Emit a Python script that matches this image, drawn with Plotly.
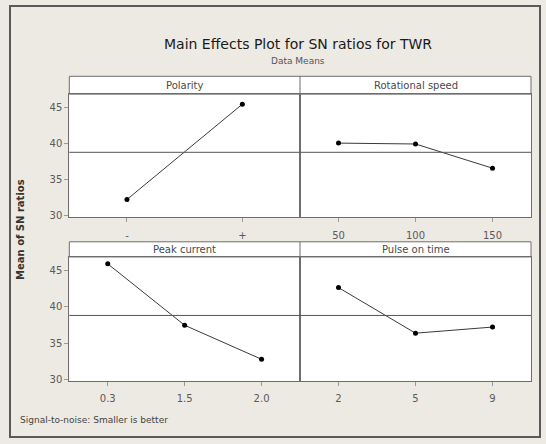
import plotly.graph_objects as go

# ---- data ----
polarity_levels = ["-", "+"]
polarity_sn = [32.27, 45.46]
speed_levels = ["50", "100", "150"]
speed_sn = [40.07, 39.95, 36.60]
current_levels = ["0.3", "1.5", "2.0"]
current_sn = [45.90, 37.45, 32.77]
pulse_levels = ["2", "5", "9"]
pulse_sn = [42.63, 36.36, 37.20]
grand_mean = 38.8
panel_titles = ["Polarity", "Rotational speed", "Peak current", "Pulse on time"]
y_ticks = [30, 35, 40, 45]

W, H = 546, 444

def px(x):
    return x / W

def py(y):
    return 1 - y / H

# panel geometry (pixels)
xl0, xm, xr1 = 69.3, 300.0, 531.0
top_y0, top_y1 = 95.0, 219.3
bot_y0, bot_y1 = 259.3, 384.3
top_hdr, bot_hdr = 77.0, 244.0

frame = "#6e6e6e"
tick_font = dict(family="DejaVu Sans", size=10, color="#5a5a5a")

fig = go.Figure()

panels = [
    (polarity_levels, polarity_sn, "x", "y", (xl0, xm), (top_y0, top_y1)),
    (speed_levels, speed_sn, "x2", "y2", (xm, xr1), (top_y0, top_y1)),
    (current_levels, current_sn, "x3", "y3", (xl0, xm), (bot_y0, bot_y1)),
    (pulse_levels, pulse_sn, "x4", "y4", (xm, xr1), (bot_y0, bot_y1)),
]

layout_axes = {}
for i, (lev, vals, xa, ya, (x0, x1), (y0, y1)) in enumerate(panels):
    fig.add_trace(go.Scatter(
        x=lev, y=vals, xaxis=xa, yaxis=ya, mode="lines+markers",
        line=dict(color="#3a3a3a", width=1),
        marker=dict(color="black", size=5, symbol="circle"),
        showlegend=False, hoverinfo="x+y",
    ))
    n = len(lev)
    xname = "xaxis" if i == 0 else f"xaxis{i+1}"
    yname = "yaxis" if i == 0 else f"yaxis{i+1}"
    left = (i % 2 == 0)
    top = i < 2
    layout_axes[xname] = dict(
        domain=[px(x0), px(x1)], anchor=ya, type="category",
        categoryorder="array", categoryarray=lev,
        range=[-0.5, n - 0.5], showgrid=False, zeroline=False,
        showline=True, mirror=True, linecolor=frame, linewidth=1,
        ticks="outside", ticklen=4, tickcolor="#9a9a9a",
        ticklabelstandoff=5 if top else 4,
        tickfont=tick_font, fixedrange=True,
    )
    layout_axes[yname] = dict(
        domain=[py(y1), py(y0)], anchor=xa, range=[29.8, 46.85],
        tickvals=y_ticks, showgrid=False, zeroline=False,
        showline=True, mirror=True, linecolor=frame, linewidth=1,
        ticks="outside" if left else "", ticklen=4, tickcolor="#9a9a9a",
        showticklabels=left, tickfont=tick_font, fixedrange=True,
    )

fig.update_layout(**layout_axes)

shapes = []
# outer frame
shapes.append(dict(type="rect", xref="paper", yref="paper",
                   x0=px(10), x1=px(540), y0=py(441), y1=py(6),
                   line=dict(color="#5a5a5a", width=2), layer="above"))

# grand-mean reference lines spanning full panel width
for (lev, vals, xa, ya, (x0, x1), (y0, y1)) in panels:
    shapes.append(dict(type="line", xref=f"{xa} domain", yref=ya,
                       x0=0, x1=1, y0=grand_mean, y1=grand_mean,
                       line=dict(color="#555555", width=1), layer="above"))

# header strips
for (hy0, hy1) in [(top_hdr, top_y0), (bot_hdr, bot_y0)]:
    shapes.append(dict(type="rect", xref="paper", yref="paper",
                       x0=px(xl0), x1=px(xr1), y0=py(hy1), y1=py(hy0),
                       fillcolor="white", line=dict(color=frame, width=1),
                       layer="below"))
    shapes.append(dict(type="line", xref="paper", yref="paper",
                       x0=px(xm), x1=px(xm), y0=py(hy1), y1=py(hy0),
                       line=dict(color=frame, width=1)))

annotations = []
hdr_pos = [((xl0 + xm) / 2, (top_hdr + top_y0) / 2),
           ((xm + xr1) / 2, (top_hdr + top_y0) / 2),
           ((xl0 + xm) / 2, (bot_hdr + bot_y0) / 2),
           ((xm + xr1) / 2, (bot_hdr + bot_y0) / 2)]
for t, (hx, hy) in zip(panel_titles, hdr_pos):
    annotations.append(dict(text=t, x=px(hx), y=py(hy), xref="paper", yref="paper",
                            showarrow=False, xanchor="center", yanchor="middle",
                            font=dict(family="DejaVu Sans", size=10, color="#4a4a4a")))

annotations += [
    dict(text="Main Effects Plot for SN ratios for TWR", x=px(298), y=py(44),
         xref="paper", yref="paper", showarrow=False, xanchor="center", yanchor="middle",
         font=dict(family="DejaVu Sans", size=14, color="#1a1a1a")),
    dict(text="Data Means", x=px(298), y=py(62), xref="paper", yref="paper",
         showarrow=False, xanchor="center", yanchor="middle",
         font=dict(family="DejaVu Sans", size=9, color="#555555")),
    dict(text="<b>Mean of SN ratios</b>", x=px(21), y=py(232), xref="paper", yref="paper",
         showarrow=False, textangle=-90, xanchor="center", yanchor="middle",
         font=dict(family="DejaVu Sans", size=10, color="#333333")),
    dict(text="Signal-to-noise: Smaller is better", x=px(18), y=py(424),
         xref="paper", yref="paper", showarrow=False, xanchor="left", yanchor="middle",
         font=dict(family="DejaVu Sans", size=9, color="#444444")),
]

fig.update_layout(
    width=W, height=H, margin=dict(l=0, r=0, t=0, b=0),
    paper_bgcolor="#EDE9E3", plot_bgcolor="white",
    shapes=shapes, annotations=annotations,
)

fig.write_html(
    "out.html",
    config={"displayModeBar": False},
    post_script="document.body.style.margin='0';document.body.style.overflow='hidden';",
)
